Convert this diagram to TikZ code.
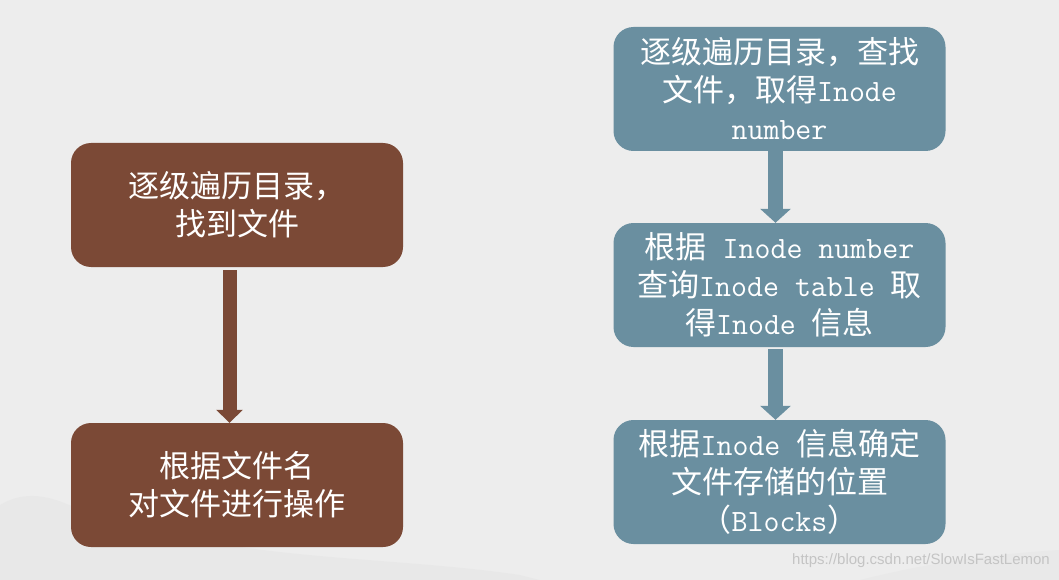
\documentclass[tikz,border=0pt]{standalone}
\usepackage{fontspec}
\setmainfont{Noto Sans CJK SC}
\newfontfamily\wmfont{Liberation Sans}
\usetikzlibrary{arrows.meta}
\definecolor{bgcol}{HTML}{EDEDED}
\definecolor{hillcol}{HTML}{E3E3E3}
\definecolor{brownbox}{HTML}{7B4936}
\definecolor{bluebox}{HTML}{6A8FA0}
\definecolor{wmcol}{HTML}{C4C4C4}
\tikzset{
  box/.style={rounded corners=20pt, minimum width=332pt, minimum height=124pt,
    inner sep=0pt, align=center, text=white,
    font=\fontsize{31}{38}\selectfont},
  brownnode/.style={box, fill=brownbox},
  bluenode/.style={box, fill=bluebox},
  brownarrow/.style={draw=brownbox, line width=14pt,
    -{Triangle[width=26pt,length=13pt]}},
  bluearrow/.style={draw=bluebox, line width=15pt,
    -{Triangle[width=30pt,length=14pt]}}
}
\begin{document}
\begin{tikzpicture}[x=1pt,y=-1pt]
\fill[bgcol] (0,0) rectangle (1059,580);
\useasboundingbox (0,0) rectangle (1059,580);
% faint hills in background
\fill[hillcol, opacity=0.45] (0,580) -- (0,505) .. controls (25,490) and (50,495) .. (80,510)
  .. controls (120,525) and (160,530) .. (200,540) .. controls (300,560) and (420,560) .. (520,575)
  -- (540,580) -- cycle;
\fill[hillcol, opacity=0.4] (860,580) .. controls (920,565) and (980,555) .. (1059,550) -- (1059,580) -- cycle;

\node[brownnode] (l1) at (237,205) {逐级遍历目录，\\找到文件};
\node[brownnode] (l2) at (237,485) {根据文件名\\对文件进行操作};

\node[bluenode] (r1) at (779.5,89) {逐级遍历目录，查找\\文件，取得\texttt{Inode}\\\texttt{number}};
\node[bluenode] (r2) at (779.5,285) {根据\texttt{ Inode number}\\查询\texttt{Inode table }取\\得\texttt{Inode }信息};
\node[bluenode] (r3) at (779.5,482) {根据\texttt{Inode }信息确定\\文件存储的位置\\（\texttt{Blocks}）};

\draw[brownarrow, shorten <=3pt] ([xshift=-7.5pt]l1.south) -- ([xshift=-7.5pt]l2.north);
\draw[bluearrow] ([xshift=-4pt]r1.south) -- ([xshift=-4pt]r2.north);
\draw[bluearrow, shorten <=2pt] ([xshift=-4pt]r2.south) -- ([xshift=-4pt]r3.north);

\node[anchor=east, text=wmcol, inner sep=0pt, font=\wmfont\fontsize{15}{15}\selectfont] (wm) at (1050,561) {https://blog.csdn.net/SlowIsFastLemon};
\end{tikzpicture}
\end{document}
